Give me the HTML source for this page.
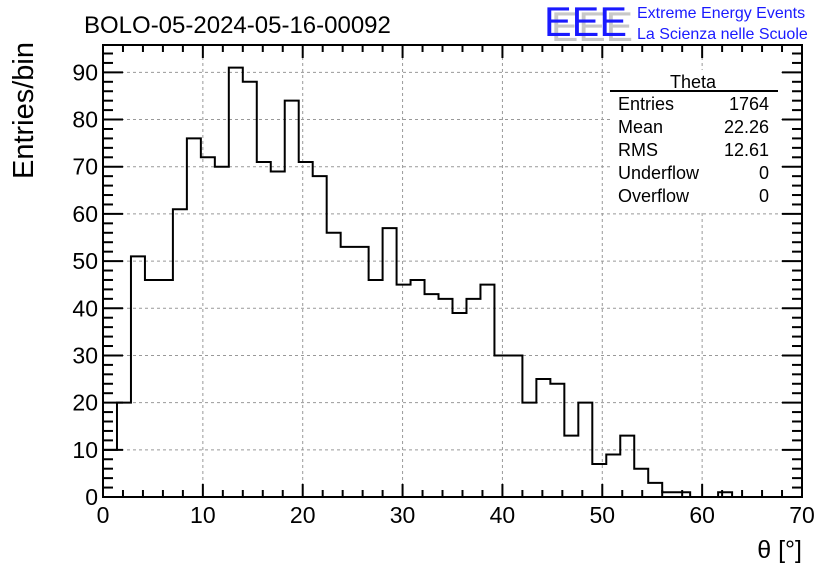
<!DOCTYPE html>
<html><head><meta charset="utf-8"><style>
body{margin:0;background:#fff;}
svg{display:block;font-family:"Liberation Sans",sans-serif;}
</style></head><body>
<svg id="c" width="836" height="572"></svg>
<script>
const binEdgesStart = 0;
const binWidth = 1.4;
const counts = [10,20,51,46,46,61,76,72,70,91,88,71,69,84,71,68,56,53,53,46,57,45,46,43,42,39,42,45,30,30,20,25,24,13,20,7,9,13,6,3,1,1,0,0,1,0,0,0,0,0];
const xTicks = [0,10,20,30,40,50,60,70];
const yTicks = [0,10,20,30,40,50,60,70,80,90];
const statLabels = ["Entries","Mean","RMS","Underflow","Overflow"];
const statValues = ["1764","22.26","12.61","0","0"];

const L=103,R=802,T=45,B=497,XMAX=70,YMAX=95.8;
const sx=v=>L+(v/XMAX)*(R-L);
const sy=v=>B-(v/YMAX)*(B-T);
const svg=document.getElementById('c');
const NS="http://www.w3.org/2000/svg";
function mk(tag,attrs,parent){const e=document.createElementNS(NS,tag);for(const k in attrs)e.setAttribute(k,attrs[k]);(parent||svg).appendChild(e);return e;}

// grid
for(const t of xTicks){if(t===0||t===XMAX)continue;
 const g=mk('line',{x1:sx(t),x2:sx(t),y1:T,y2:B,stroke:'#999','stroke-dasharray':'3,3','stroke-width':1});
 
 }
for(const t of yTicks){if(t===0)continue;
 const g=mk('line',{x1:L,x2:R,y1:sy(t),y2:sy(t),stroke:'#999','stroke-dasharray':'3,3','stroke-width':1});
 
 }

// histogram
let d=`M${sx(binEdgesStart)},${sy(0)}`;
counts.forEach((c,i)=>{const x0=sx(binEdgesStart+i*binWidth),x1=sx(binEdgesStart+(i+1)*binWidth);d+=` L${x0},${sy(c)} L${x1},${sy(c)}`;});
d+=` L${sx(binEdgesStart+counts.length*binWidth)},${sy(0)}`;
const h=mk('path',{d:d,fill:'none',stroke:'#000','stroke-width':2});



// frame
const fr=mk('rect',{x:L,y:T,width:R-L,height:B-T,fill:'none',stroke:'#000','stroke-width':2});



// x ticks
for(let v=0;v<=XMAX;v+=2){const maj=v%10===0;const len=maj?13:7;
 mk('line',{x1:sx(v),x2:sx(v),y1:B,y2:B-len,stroke:'#000','stroke-width':2});
 mk('line',{x1:sx(v),x2:sx(v),y1:T,y2:T+len,stroke:'#000','stroke-width':2});}
for(const t of xTicks){const tx=mk('text',{x:sx(t),y:B+26,'font-size':23,'text-anchor':'middle'});tx.textContent=t;
 
 }
// y ticks
for(let v=0;v<=94;v+=2){const maj=v%10===0;const len=maj?20:10;
 mk('line',{x1:L,x2:L+len,y1:sy(v),y2:sy(v),stroke:'#000','stroke-width':2});
 mk('line',{x1:R,x2:R-len,y1:sy(v),y2:sy(v),stroke:'#000','stroke-width':2});}
for(const t of yTicks){const tx=mk('text',{x:L-5,y:sy(t)+8,'font-size':23,'text-anchor':'end'});tx.textContent=t;
 
 }

// axis titles
const xt=mk('text',{x:802,y:558,'font-size':25,'text-anchor':'end'});xt.textContent='θ [°]';


const yt=mk('text',{x:0,y:0,'font-size':29,'text-anchor':'end',transform:'translate(33,42) rotate(-90)'});yt.textContent='Entries/bin';



// title
const ti=mk('text',{x:84,y:33,'font-size':24});ti.textContent='BOLO-05-2024-05-16-00092';



// logo
const sh=mk('text',{x:551,y:41,'font-size':42,fill:'#c8c8c8',textLength:82,lengthAdjust:'spacingAndGlyphs'});sh.textContent='EEE';


const logo=mk('text',{x:544,y:36,'font-size':42,fill:'#1a1aff',textLength:83,lengthAdjust:'spacingAndGlyphs'});logo.textContent='EEE';


const l1=mk('text',{x:637,y:18,'font-size':16,fill:'#1a1aff'});l1.textContent='Extreme Energy Events';


const l2=mk('text',{x:637,y:39,'font-size':16,fill:'#1a1aff'});l2.textContent='La Scienza nelle Scuole';



// stats box
const sb=mk('rect',{x:610,y:70,width:168,height:140,fill:'#fff'});


const st=mk('text',{x:693,y:88,'font-size':18,'text-anchor':'middle'});st.textContent='Theta';


mk('line',{x1:610,x2:778,y1:91,y2:91,stroke:'#000','stroke-width':2});
statLabels.forEach((lab,i)=>{const y=110+i*23;
 const a=mk('text',{x:618,y:y,'font-size':18});a.textContent=lab;
 
 
 const b=mk('text',{x:769,y:y,'font-size':18,'text-anchor':'end'});b.textContent=statValues[i];
 
 });
</script>
</body></html>
